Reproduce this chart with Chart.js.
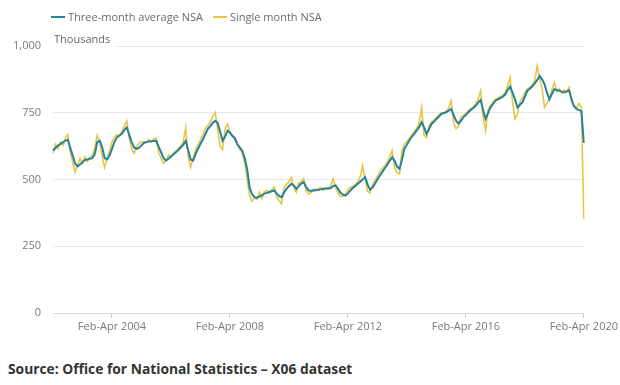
<!DOCTYPE html>
<html><head><meta charset="utf-8">
<script src="https://cdn.jsdelivr.net/npm/chart.js@4.4.0/dist/chart.umd.min.js"></script>
<style>
html,body{margin:0;padding:0;background:#fff;}
#wrap{position:relative;width:620px;height:385px;overflow:hidden;font-family:'Open Sans',sans-serif;}
#c{position:absolute;left:0;top:0;}
.lg{position:absolute;top:10px;font-size:11px;color:#6a6a6a;line-height:14px;white-space:nowrap;}
.lg i{display:inline-block;width:14px;height:2px;vertical-align:middle;margin-right:3px;position:relative;top:-1px;}
#src{position:absolute;left:8px;top:359px;font-size:13.8px;font-weight:700;color:#333;white-space:nowrap;}
</style></head>
<body><div id="wrap">
<canvas id="c" width="620" height="345"></canvas>
<div class="lg" style="left:51px"><i style="background:#248299"></i>Three-month average NSA</div>
<div class="lg" style="left:213px"><i style="background:#ebc446"></i>Single month NSA</div>
<div id="src">Source: Office for National Statistics – X06 dataset</div>
</div>
<script>
const periods = ['Jan-Mar','Feb-Apr','Mar-May','Apr-Jun','May-Jul','Jun-Aug','Jul-Sep','Aug-Oct','Sep-Nov','Oct-Dec','Nov-Jan','Dec-Feb'];
const startYear = 2002;
const tickLabels = ['Feb-Apr 2004','Feb-Apr 2008','Feb-Apr 2012','Feb-Apr 2016','Feb-Apr 2020'];
const yTicks = [0, 250, 500, 750, 1000];

const threeMonth = [
608,618,627,633,639,645,649,620,590,560,549,556,
565,573,575,578,580,595,640,645,622,580,575,590,
615,640,658,665,671,685,695,668,640,620,615,618,
628,637,640,642,643,644,645,622,602,580,571,578,
586,594,602,610,620,630,645,610,575,571,595,615,
633,650,670,689,700,712,720,712,680,645,660,683,
675,664,655,633,620,608,580,540,470,445,434,432,
436,441,447,450,453,456,459,448,438,434,450,465,
475,484,478,465,475,485,490,472,459,458,459,460,
462,463,465,466,466,468,476,478,465,450,443,440,
448,459,468,476,484,492,500,509,482,462,470,484,
500,514,528,542,555,570,583,570,548,540,575,615,
630,646,660,671,684,696,714,695,671,688,708,716,
727,735,746,749,752,758,764,742,720,710,720,733,
742,752,760,768,776,788,798,760,727,748,770,782,
795,800,805,810,818,835,848,825,800,770,780,789,
810,832,840,848,860,872,888,875,857,825,801,820,
838,835,832,829,826,830,834,800,775,764,760,757,
637];

const singleMonth = [
598,632,615,640,628,655,668,602,565,528,552,580,
560,585,568,582,590,620,665,640,585,545,580,605,
640,660,668,662,680,700,720,655,615,598,622,635,
642,640,638,650,640,652,655,600,580,560,572,592,
582,600,606,618,625,642,695,585,545,580,610,630,
648,668,690,702,715,735,752,688,625,612,690,708,
680,660,650,630,612,600,560,500,440,418,432,425,
452,428,455,460,448,462,472,432,422,408,470,482,
490,508,470,452,488,492,503,458,445,452,465,462,
465,470,460,468,466,478,503,470,450,435,438,446,
462,470,475,482,490,510,552,500,455,450,482,495,
512,528,540,552,565,585,608,545,525,521,610,632,
642,655,668,680,692,712,770,665,658,700,715,722,
732,742,750,748,755,768,795,712,690,698,735,740,
748,758,765,772,785,800,832,735,683,760,778,790,
800,805,810,815,828,850,882,790,727,745,792,805,
825,840,845,855,870,925,878,840,770,785,805,835,
863,830,840,822,835,828,845,790,776,768,785,770,
353];

const labels = threeMonth.map((_, i) => periods[(1 + i) % 12] + ' ' + (startYear + Math.floor((3 + i) / 12)));
const tickIdx = tickLabels.map(l => labels.indexOf(l));

const thousandsPlugin = {
  id: 'thousands',
  afterDraw(chart) {
    const ctx = chart.ctx;
    ctx.save();
    ctx.font = '11px "Open Sans"';
    const w = ctx.measureText('Thousands').width;
    ctx.fillStyle = '#fff';
    ctx.fillRect(53, 33, w + 6, 15);
    ctx.fillStyle = '#666';
    ctx.textBaseline = 'middle';
    ctx.fillText('Thousands', 54, 40);
    ctx.restore();
  }
};

new Chart(document.getElementById('c'), {
  type: 'line',
  data: {
    labels: labels,
    datasets: [
      { label: 'Three-month average NSA', data: threeMonth, borderColor: '#248299', backgroundColor: '#248299', borderWidth: 2, pointRadius: 0, tension: 0 },
      { label: 'Single month NSA', data: singleMonth, borderColor: '#ebc446', backgroundColor: '#ebc446', borderWidth: 1.6, pointRadius: 0, tension: 0 }
    ]
  },
  options: {
    responsive: false,
    animation: false,
    layout: { padding: { left: 0, right: 36, top: 46, bottom: 0 } },
    plugins: { legend: { display: false }, tooltip: { enabled: false } },
    scales: {
      x: {
        type: 'category',
        offset: false,
        afterBuildTicks(axis) { axis.ticks = tickIdx.map(v => ({ value: v })); },
        afterFit(axis) { axis.height = 32; },
        grid: { display: true, drawOnChartArea: false, drawTicks: true, tickLength: 5, color: '#cfcfcf' },
        border: { display: true, color: '#d9d9d9', width: 1 },
        ticks: {
          autoSkip: false, maxRotation: 0, minRotation: 0, padding: 2,
          color: '#7a7a7a', font: { family: 'Open Sans', size: 11 },
          callback(v) { return this.getLabelForValue(v); }
        }
      },
      y: {
        min: 0, max: 1000,
        afterBuildTicks(axis) { axis.ticks = yTicks.map(v => ({ value: v })); },
        afterFit(axis) { axis.width = 53; },
        grid: { color: '#e8e8e8', drawTicks: false, lineWidth: 1 },
        border: { display: false },
        ticks: {
          padding: 12, color: '#7a7a7a', font: { family: 'Open Sans', size: 11 },
          callback(v) { return v.toLocaleString('en-GB'); }
        }
      }
    }
  },
  plugins: [thousandsPlugin]
});
</script>
</body></html>
